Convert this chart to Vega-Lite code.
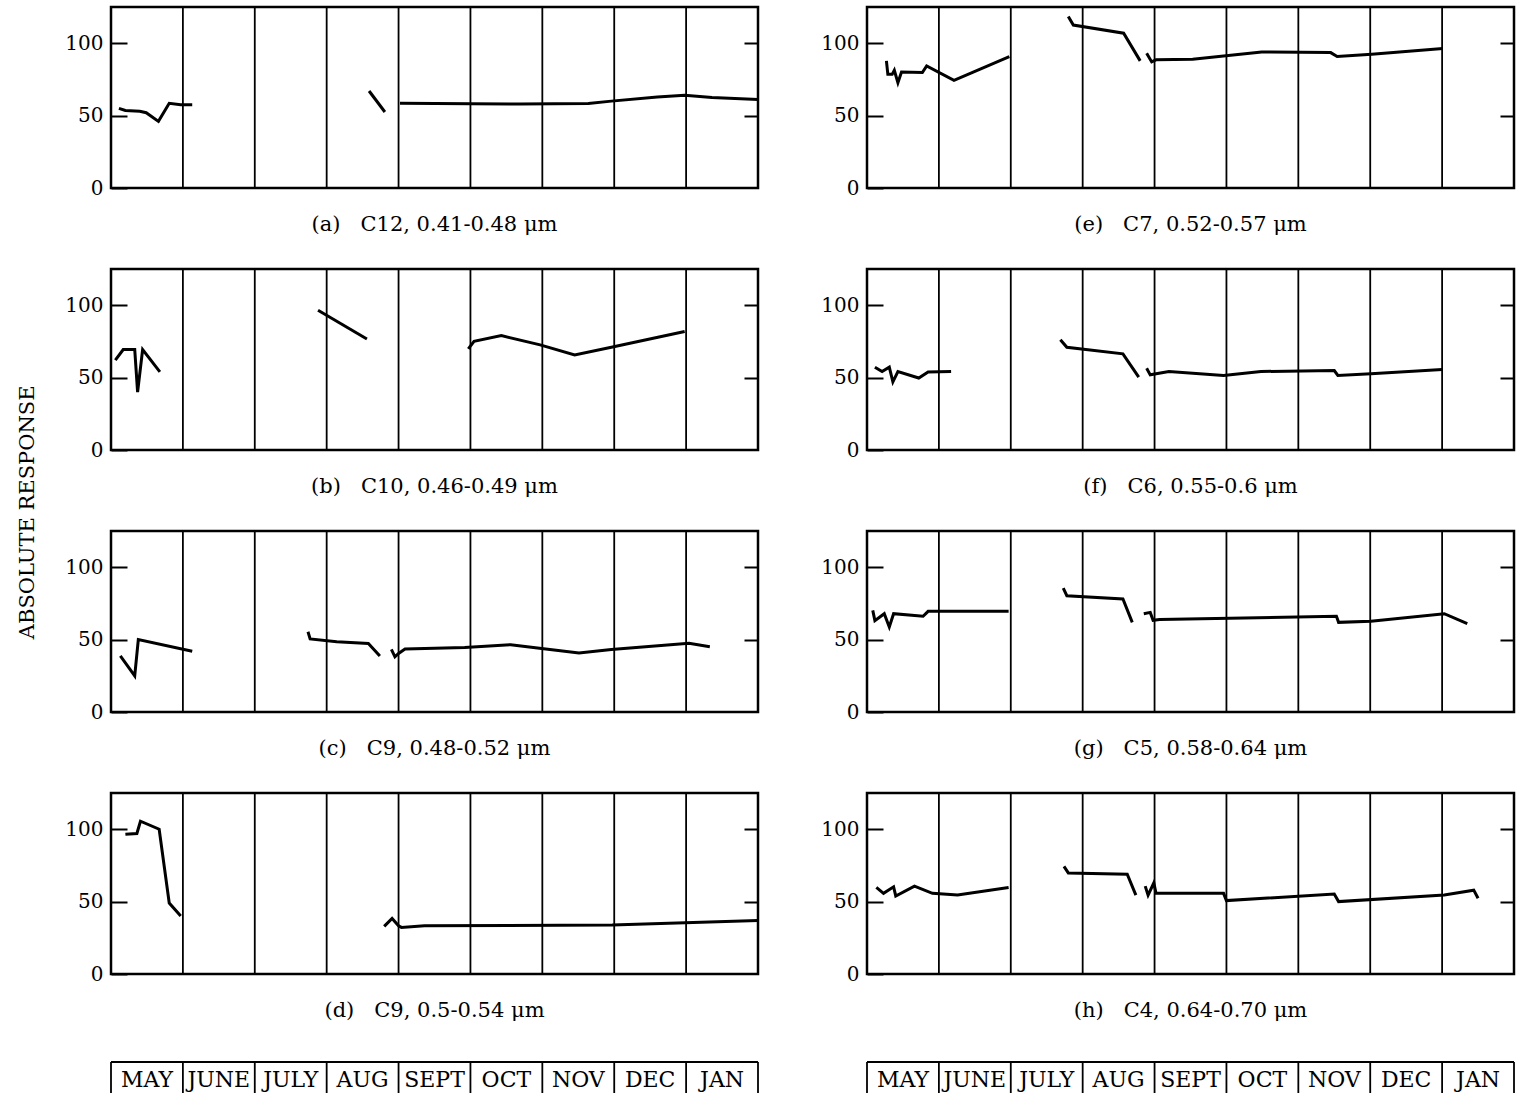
{
  "$schema": "https://vega.github.io/schema/vega-lite/v6.json",
  "background": "white",
  "padding": {"left": 16, "top": 4, "right": 5, "bottom": 0},
  "autosize": {"type": "pad"},
  "config": {
    "view": {"stroke": "black", "strokeWidth": 2.5},
    "font": "DejaVu Serif",
    "axis": {"labelFont": "DejaVu Serif", "labelFontSize": 20, "labelColor": "black", "tickColor": "black", "tickWidth": 2},
    "title": {"font": "DejaVu Serif", "fontSize": 21, "fontWeight": "normal", "color": "black"}
  },
  "datasets": {
    "bounds": [{"b": 0}, {"b": 1}, {"b": 2}, {"b": 3}, {"b": 4}, {"b": 5}, {"b": 6}, {"b": 7}, {"b": 8}, {"b": 9}],
    "edge": [{"x0": 0, "x1": 9}],
    "months": [
      {"c": 0.5, "name": "MAY"}, {"c": 1.5, "name": "JUNE"}, {"c": 2.5, "name": "JULY"}, {"c": 3.5, "name": "AUG"},
      {"c": 4.5, "name": "SEPT"}, {"c": 5.5, "name": "OCT"}, {"c": 6.5, "name": "NOV"}, {"c": 7.5, "name": "DEC"}, {"c": 8.5, "name": "JAN"}
    ],
    "resp": [
      {"p":"a","s":1,"m":0.11,"v":55},{"p":"a","s":1,"m":0.2,"v":53.5},{"p":"a","s":1,"m":0.4,"v":53},{"p":"a","s":1,"m":0.49,"v":52},{"p":"a","s":1,"m":0.66,"v":46},{"p":"a","s":1,"m":0.81,"v":58.5},{"p":"a","s":1,"m":0.97,"v":57.5},{"p":"a","s":1,"m":1.13,"v":57.5},
      {"p":"a","s":2,"m":3.59,"v":67},{"p":"a","s":2,"m":3.81,"v":52.5},
      {"p":"a","s":3,"m":4.02,"v":58.5},{"p":"a","s":3,"m":5.0,"v":58.2},{"p":"a","s":3,"m":5.69,"v":58},{"p":"a","s":3,"m":6.64,"v":58.3},{"p":"a","s":3,"m":6.96,"v":60},{"p":"a","s":3,"m":7.6,"v":62.8},{"p":"a","s":3,"m":7.98,"v":64},{"p":"a","s":3,"m":8.36,"v":62.5},{"p":"a","s":3,"m":9.0,"v":61.2},

      {"p":"b","s":1,"m":0.06,"v":62},{"p":"b","s":1,"m":0.17,"v":69.4},{"p":"b","s":1,"m":0.33,"v":69.4},{"p":"b","s":1,"m":0.37,"v":40},{"p":"b","s":1,"m":0.44,"v":69.4},{"p":"b","s":1,"m":0.68,"v":54},
      {"p":"b","s":2,"m":2.88,"v":96.5},{"p":"b","s":2,"m":3.56,"v":76.7},
      {"p":"b","s":3,"m":4.97,"v":69.8},{"p":"b","s":3,"m":5.05,"v":75},{"p":"b","s":3,"m":5.43,"v":79},{"p":"b","s":3,"m":5.97,"v":72.6},{"p":"b","s":3,"m":6.45,"v":65.7},{"p":"b","s":3,"m":6.96,"v":71},{"p":"b","s":3,"m":7.98,"v":81.8},

      {"p":"c","s":1,"m":0.13,"v":38.8},{"p":"c","s":1,"m":0.33,"v":25},{"p":"c","s":1,"m":0.38,"v":50},{"p":"c","s":1,"m":1.13,"v":42},
      {"p":"c","s":2,"m":2.74,"v":55.4},{"p":"c","s":2,"m":2.77,"v":50.5},{"p":"c","s":2,"m":3.14,"v":48.5},{"p":"c","s":2,"m":3.58,"v":47.3},{"p":"c","s":2,"m":3.74,"v":38.6},
      {"p":"c","s":3,"m":3.9,"v":43.2},{"p":"c","s":3,"m":3.95,"v":38.1},{"p":"c","s":3,"m":4.0,"v":40.4},{"p":"c","s":3,"m":4.09,"v":43.5},{"p":"c","s":3,"m":4.92,"v":44.6},{"p":"c","s":3,"m":5.56,"v":46.5},{"p":"c","s":3,"m":5.99,"v":43.8},{"p":"c","s":3,"m":6.51,"v":40.8},{"p":"c","s":3,"m":6.96,"v":43.2},{"p":"c","s":3,"m":8.04,"v":47.5},{"p":"c","s":3,"m":8.33,"v":45},

      {"p":"d","s":1,"m":0.2,"v":96.5},{"p":"d","s":1,"m":0.36,"v":97},{"p":"d","s":1,"m":0.41,"v":105.5},{"p":"d","s":1,"m":0.67,"v":100},{"p":"d","s":1,"m":0.81,"v":49},{"p":"d","s":1,"m":0.97,"v":40},
      {"p":"d","s":2,"m":3.8,"v":32.9},{"p":"d","s":2,"m":3.91,"v":38.4},{"p":"d","s":2,"m":4.0,"v":33.3},{"p":"d","s":2,"m":4.04,"v":32.2},{"p":"d","s":2,"m":4.36,"v":33.3},{"p":"d","s":2,"m":6.97,"v":33.8},{"p":"d","s":2,"m":9.0,"v":37},

      {"p":"e","s":1,"m":0.27,"v":87.8},{"p":"e","s":1,"m":0.29,"v":78.5},{"p":"e","s":1,"m":0.35,"v":78.5},{"p":"e","s":1,"m":0.38,"v":81.3},{"p":"e","s":1,"m":0.43,"v":72.7},{"p":"e","s":1,"m":0.48,"v":80.1},{"p":"e","s":1,"m":0.77,"v":79.7},{"p":"e","s":1,"m":0.83,"v":84.3},{"p":"e","s":1,"m":1.21,"v":74.4},{"p":"e","s":1,"m":1.98,"v":90.8},
      {"p":"e","s":2,"m":2.8,"v":118.5},{"p":"e","s":2,"m":2.87,"v":112.5},{"p":"e","s":2,"m":3.57,"v":106.9},{"p":"e","s":2,"m":3.8,"v":87.8},
      {"p":"e","s":3,"m":3.89,"v":93.1},{"p":"e","s":3,"m":3.96,"v":87.1},{"p":"e","s":3,"m":4.02,"v":88.5},{"p":"e","s":3,"m":4.53,"v":88.9},{"p":"e","s":3,"m":5.49,"v":94},{"p":"e","s":3,"m":6.45,"v":93.5},{"p":"e","s":3,"m":6.54,"v":90.8},{"p":"e","s":3,"m":7.02,"v":92.4},{"p":"e","s":3,"m":8.01,"v":96.3},

      {"p":"f","s":1,"m":0.11,"v":57.2},{"p":"f","s":1,"m":0.21,"v":54.2},{"p":"f","s":1,"m":0.31,"v":57.2},{"p":"f","s":1,"m":0.36,"v":47},{"p":"f","s":1,"m":0.43,"v":54.2},{"p":"f","s":1,"m":0.72,"v":49.7},{"p":"f","s":1,"m":0.85,"v":53.8},{"p":"f","s":1,"m":1.17,"v":54.2},
      {"p":"f","s":2,"m":2.69,"v":76.2},{"p":"f","s":2,"m":2.78,"v":70.9},{"p":"f","s":2,"m":3.56,"v":66.4},{"p":"f","s":2,"m":3.78,"v":50.3},
      {"p":"f","s":3,"m":3.89,"v":56.5},{"p":"f","s":3,"m":3.94,"v":51.9},{"p":"f","s":3,"m":4.2,"v":54.2},{"p":"f","s":3,"m":4.96,"v":51.5},{"p":"f","s":3,"m":5.48,"v":54.2},{"p":"f","s":3,"m":6.5,"v":54.9},{"p":"f","s":3,"m":6.55,"v":51.5},{"p":"f","s":3,"m":7.01,"v":52.6},{"p":"f","s":3,"m":8.0,"v":55.6},

      {"p":"g","s":1,"m":0.08,"v":70.2},{"p":"g","s":1,"m":0.11,"v":63.1},{"p":"g","s":1,"m":0.24,"v":67.9},{"p":"g","s":1,"m":0.31,"v":58.7},{"p":"g","s":1,"m":0.37,"v":67.9},{"p":"g","s":1,"m":0.78,"v":66.1},{"p":"g","s":1,"m":0.85,"v":69.5},{"p":"g","s":1,"m":1.97,"v":69.5},
      {"p":"g","s":2,"m":2.73,"v":85.6},{"p":"g","s":2,"m":2.78,"v":80.3},{"p":"g","s":2,"m":3.56,"v":78},{"p":"g","s":2,"m":3.69,"v":61.9},
      {"p":"g","s":3,"m":3.85,"v":67.9},{"p":"g","s":3,"m":3.94,"v":68.8},{"p":"g","s":3,"m":3.98,"v":63.3},{"p":"g","s":3,"m":4.07,"v":63.8},{"p":"g","s":3,"m":6.53,"v":66.1},{"p":"g","s":3,"m":6.56,"v":61.9},{"p":"g","s":3,"m":7.01,"v":62.6},{"p":"g","s":3,"m":8.03,"v":67.9},{"p":"g","s":3,"m":8.35,"v":61},

      {"p":"h","s":1,"m":0.13,"v":59.8},{"p":"h","s":1,"m":0.23,"v":55.7},{"p":"h","s":1,"m":0.37,"v":60.2},{"p":"h","s":1,"m":0.4,"v":53.9},{"p":"h","s":1,"m":0.66,"v":60.7},{"p":"h","s":1,"m":0.91,"v":55.7},{"p":"h","s":1,"m":1.26,"v":54.5},{"p":"h","s":1,"m":1.97,"v":59.8},
      {"p":"h","s":2,"m":2.74,"v":74.3},{"p":"h","s":2,"m":2.8,"v":69.8},{"p":"h","s":2,"m":3.62,"v":68.9},{"p":"h","s":2,"m":3.74,"v":54.5},
      {"p":"h","s":3,"m":3.87,"v":60.7},{"p":"h","s":3,"m":3.91,"v":54.5},{"p":"h","s":3,"m":3.99,"v":63},{"p":"h","s":3,"m":4.02,"v":55.7},{"p":"h","s":3,"m":4.96,"v":55.7},{"p":"h","s":3,"m":5.0,"v":50.7},{"p":"h","s":3,"m":6.5,"v":55.2},{"p":"h","s":3,"m":6.56,"v":50},{"p":"h","s":3,"m":8.03,"v":54.5},{"p":"h","s":3,"m":8.44,"v":57.9},{"p":"h","s":3,"m":8.5,"v":52.3}
    ]
  },
  "title": {"text": "ABSOLUTE RESPONSE", "orient": "left", "anchor": "middle", "offset": 26, "dx": 37, "fontSize": 21},
  "columns": 2,
  "spacing": {"row": 81, "column": 109},
  "bounds": "flush",
  "concat": [
    {"width": 647, "height": 181, "title": {"text": "(a)\u00a0\u00a0 C12, 0.41-0.48 μm", "orient": "bottom", "offset": 16},
     "layer": [
       {"data": {"name": "bounds"}, "mark": {"type": "rule", "color": "black", "strokeWidth": 1.8},
        "encoding": {"x": {"field": "b", "type": "quantitative", "scale": {"domain": [0, 9], "nice": false, "zero": false}, "axis": null},
          "y": {"datum": 0, "type": "quantitative", "scale": {"domain": [0, 125], "nice": false}, "axis": {"orient": "right", "values": [50, 100], "labels": false, "tickSize": -14, "domain": false, "title": null, "grid": false}},
          "y2": {"datum": 125}}},
       {"data": {"name": "resp"}, "transform": [{"filter": "datum.p == 'a'"}], "mark": {"type": "line", "color": "black", "strokeWidth": 3},
        "encoding": {"x": {"field": "m", "type": "quantitative", "scale": {"domain": [0, 9], "nice": false, "zero": false}, "axis": null},
          "y": {"field": "v", "type": "quantitative", "scale": {"domain": [0, 125], "nice": false}, "axis": {"orient": "left", "values": [0, 50, 100], "tickSize": -16, "labelPadding": 24, "domain": false, "title": null, "grid": false}},
          "detail": {"field": "s"}}}
     ],
     "resolve": {"axis": {"y": "independent"}}},
    {"width": 647, "height": 181, "title": {"text": "(e)\u00a0\u00a0 C7, 0.52-0.57 μm", "orient": "bottom", "offset": 16},
     "layer": [
       {"data": {"name": "bounds"}, "mark": {"type": "rule", "color": "black", "strokeWidth": 1.8},
        "encoding": {"x": {"field": "b", "type": "quantitative", "scale": {"domain": [0, 9], "nice": false, "zero": false}, "axis": null},
          "y": {"datum": 0, "type": "quantitative", "scale": {"domain": [0, 125], "nice": false}, "axis": {"orient": "right", "values": [50, 100], "labels": false, "tickSize": -14, "domain": false, "title": null, "grid": false}},
          "y2": {"datum": 125}}},
       {"data": {"name": "resp"}, "transform": [{"filter": "datum.p == 'e'"}], "mark": {"type": "line", "color": "black", "strokeWidth": 3},
        "encoding": {"x": {"field": "m", "type": "quantitative", "scale": {"domain": [0, 9], "nice": false, "zero": false}, "axis": null},
          "y": {"field": "v", "type": "quantitative", "scale": {"domain": [0, 125], "nice": false}, "axis": {"orient": "left", "values": [0, 50, 100], "tickSize": -16, "labelPadding": 24, "domain": false, "title": null, "grid": false}},
          "detail": {"field": "s"}}}
     ],
     "resolve": {"axis": {"y": "independent"}}},
    {"width": 647, "height": 181, "title": {"text": "(b)\u00a0\u00a0 C10, 0.46-0.49 μm", "orient": "bottom", "offset": 16},
     "layer": [
       {"data": {"name": "bounds"}, "mark": {"type": "rule", "color": "black", "strokeWidth": 1.8},
        "encoding": {"x": {"field": "b", "type": "quantitative", "scale": {"domain": [0, 9], "nice": false, "zero": false}, "axis": null},
          "y": {"datum": 0, "type": "quantitative", "scale": {"domain": [0, 125], "nice": false}, "axis": {"orient": "right", "values": [50, 100], "labels": false, "tickSize": -14, "domain": false, "title": null, "grid": false}},
          "y2": {"datum": 125}}},
       {"data": {"name": "resp"}, "transform": [{"filter": "datum.p == 'b'"}], "mark": {"type": "line", "color": "black", "strokeWidth": 3},
        "encoding": {"x": {"field": "m", "type": "quantitative", "scale": {"domain": [0, 9], "nice": false, "zero": false}, "axis": null},
          "y": {"field": "v", "type": "quantitative", "scale": {"domain": [0, 125], "nice": false}, "axis": {"orient": "left", "values": [0, 50, 100], "tickSize": -16, "labelPadding": 24, "domain": false, "title": null, "grid": false}},
          "detail": {"field": "s"}}}
     ],
     "resolve": {"axis": {"y": "independent"}}},
    {"width": 647, "height": 181, "title": {"text": "(f)\u00a0\u00a0 C6, 0.55-0.6 μm", "orient": "bottom", "offset": 16},
     "layer": [
       {"data": {"name": "bounds"}, "mark": {"type": "rule", "color": "black", "strokeWidth": 1.8},
        "encoding": {"x": {"field": "b", "type": "quantitative", "scale": {"domain": [0, 9], "nice": false, "zero": false}, "axis": null},
          "y": {"datum": 0, "type": "quantitative", "scale": {"domain": [0, 125], "nice": false}, "axis": {"orient": "right", "values": [50, 100], "labels": false, "tickSize": -14, "domain": false, "title": null, "grid": false}},
          "y2": {"datum": 125}}},
       {"data": {"name": "resp"}, "transform": [{"filter": "datum.p == 'f'"}], "mark": {"type": "line", "color": "black", "strokeWidth": 3},
        "encoding": {"x": {"field": "m", "type": "quantitative", "scale": {"domain": [0, 9], "nice": false, "zero": false}, "axis": null},
          "y": {"field": "v", "type": "quantitative", "scale": {"domain": [0, 125], "nice": false}, "axis": {"orient": "left", "values": [0, 50, 100], "tickSize": -16, "labelPadding": 24, "domain": false, "title": null, "grid": false}},
          "detail": {"field": "s"}}}
     ],
     "resolve": {"axis": {"y": "independent"}}},
    {"width": 647, "height": 181, "title": {"text": "(c)\u00a0\u00a0 C9, 0.48-0.52 μm", "orient": "bottom", "offset": 16},
     "layer": [
       {"data": {"name": "bounds"}, "mark": {"type": "rule", "color": "black", "strokeWidth": 1.8},
        "encoding": {"x": {"field": "b", "type": "quantitative", "scale": {"domain": [0, 9], "nice": false, "zero": false}, "axis": null},
          "y": {"datum": 0, "type": "quantitative", "scale": {"domain": [0, 125], "nice": false}, "axis": {"orient": "right", "values": [50, 100], "labels": false, "tickSize": -14, "domain": false, "title": null, "grid": false}},
          "y2": {"datum": 125}}},
       {"data": {"name": "resp"}, "transform": [{"filter": "datum.p == 'c'"}], "mark": {"type": "line", "color": "black", "strokeWidth": 3},
        "encoding": {"x": {"field": "m", "type": "quantitative", "scale": {"domain": [0, 9], "nice": false, "zero": false}, "axis": null},
          "y": {"field": "v", "type": "quantitative", "scale": {"domain": [0, 125], "nice": false}, "axis": {"orient": "left", "values": [0, 50, 100], "tickSize": -16, "labelPadding": 24, "domain": false, "title": null, "grid": false}},
          "detail": {"field": "s"}}}
     ],
     "resolve": {"axis": {"y": "independent"}}},
    {"width": 647, "height": 181, "title": {"text": "(g)\u00a0\u00a0 C5, 0.58-0.64 μm", "orient": "bottom", "offset": 16},
     "layer": [
       {"data": {"name": "bounds"}, "mark": {"type": "rule", "color": "black", "strokeWidth": 1.8},
        "encoding": {"x": {"field": "b", "type": "quantitative", "scale": {"domain": [0, 9], "nice": false, "zero": false}, "axis": null},
          "y": {"datum": 0, "type": "quantitative", "scale": {"domain": [0, 125], "nice": false}, "axis": {"orient": "right", "values": [50, 100], "labels": false, "tickSize": -14, "domain": false, "title": null, "grid": false}},
          "y2": {"datum": 125}}},
       {"data": {"name": "resp"}, "transform": [{"filter": "datum.p == 'g'"}], "mark": {"type": "line", "color": "black", "strokeWidth": 3},
        "encoding": {"x": {"field": "m", "type": "quantitative", "scale": {"domain": [0, 9], "nice": false, "zero": false}, "axis": null},
          "y": {"field": "v", "type": "quantitative", "scale": {"domain": [0, 125], "nice": false}, "axis": {"orient": "left", "values": [0, 50, 100], "tickSize": -16, "labelPadding": 24, "domain": false, "title": null, "grid": false}},
          "detail": {"field": "s"}}}
     ],
     "resolve": {"axis": {"y": "independent"}}},
    {"width": 647, "height": 181, "title": {"text": "(d)\u00a0\u00a0 C9, 0.5-0.54 μm", "orient": "bottom", "offset": 16},
     "layer": [
       {"data": {"name": "bounds"}, "mark": {"type": "rule", "color": "black", "strokeWidth": 1.8},
        "encoding": {"x": {"field": "b", "type": "quantitative", "scale": {"domain": [0, 9], "nice": false, "zero": false}, "axis": null},
          "y": {"datum": 0, "type": "quantitative", "scale": {"domain": [0, 125], "nice": false}, "axis": {"orient": "right", "values": [50, 100], "labels": false, "tickSize": -14, "domain": false, "title": null, "grid": false}},
          "y2": {"datum": 125}}},
       {"data": {"name": "resp"}, "transform": [{"filter": "datum.p == 'd'"}], "mark": {"type": "line", "color": "black", "strokeWidth": 3},
        "encoding": {"x": {"field": "m", "type": "quantitative", "scale": {"domain": [0, 9], "nice": false, "zero": false}, "axis": null},
          "y": {"field": "v", "type": "quantitative", "scale": {"domain": [0, 125], "nice": false}, "axis": {"orient": "left", "values": [0, 50, 100], "tickSize": -16, "labelPadding": 24, "domain": false, "title": null, "grid": false}},
          "detail": {"field": "s"}}}
     ],
     "resolve": {"axis": {"y": "independent"}}},
    {"width": 647, "height": 181, "title": {"text": "(h)\u00a0\u00a0 C4, 0.64-0.70 μm", "orient": "bottom", "offset": 16},
     "layer": [
       {"data": {"name": "bounds"}, "mark": {"type": "rule", "color": "black", "strokeWidth": 1.8},
        "encoding": {"x": {"field": "b", "type": "quantitative", "scale": {"domain": [0, 9], "nice": false, "zero": false}, "axis": null},
          "y": {"datum": 0, "type": "quantitative", "scale": {"domain": [0, 125], "nice": false}, "axis": {"orient": "right", "values": [50, 100], "labels": false, "tickSize": -14, "domain": false, "title": null, "grid": false}},
          "y2": {"datum": 125}}},
       {"data": {"name": "resp"}, "transform": [{"filter": "datum.p == 'h'"}], "mark": {"type": "line", "color": "black", "strokeWidth": 3},
        "encoding": {"x": {"field": "m", "type": "quantitative", "scale": {"domain": [0, 9], "nice": false, "zero": false}, "axis": null},
          "y": {"field": "v", "type": "quantitative", "scale": {"domain": [0, 125], "nice": false}, "axis": {"orient": "left", "values": [0, 50, 100], "tickSize": -16, "labelPadding": 24, "domain": false, "title": null, "grid": false}},
          "detail": {"field": "s"}}}
     ],
     "resolve": {"axis": {"y": "independent"}}},
    {"width": 647, "height": 38, "view": {"stroke": null},
     "layer": [
       {"data": {"name": "bounds"}, "mark": {"type": "rule", "color": "black", "strokeWidth": 1.8},
        "encoding": {"x": {"field": "b", "type": "quantitative", "scale": {"domain": [0, 9], "nice": false, "zero": false}, "axis": null},
          "y": {"datum": 0, "type": "quantitative", "scale": {"domain": [0, 38], "nice": false}, "axis": null},
          "y2": {"datum": 31}}},
       {"data": {"name": "edge"}, "mark": {"type": "rule", "color": "black", "strokeWidth": 1.8},
        "encoding": {"x": {"field": "x0", "type": "quantitative"}, "x2": {"field": "x1"}, "y": {"datum": 31, "type": "quantitative"}}},
       {"data": {"name": "months"}, "mark": {"type": "text", "font": "DejaVu Serif", "fontSize": 22, "baseline": "middle", "color": "black"},
        "encoding": {"x": {"field": "c", "type": "quantitative"}, "y": {"datum": 13, "type": "quantitative"}, "text": {"field": "name"}}}
     ]},
    {"width": 647, "height": 38, "view": {"stroke": null},
     "layer": [
       {"data": {"name": "bounds"}, "mark": {"type": "rule", "color": "black", "strokeWidth": 1.8},
        "encoding": {"x": {"field": "b", "type": "quantitative", "scale": {"domain": [0, 9], "nice": false, "zero": false}, "axis": null},
          "y": {"datum": 0, "type": "quantitative", "scale": {"domain": [0, 38], "nice": false}, "axis": null},
          "y2": {"datum": 31}}},
       {"data": {"name": "edge"}, "mark": {"type": "rule", "color": "black", "strokeWidth": 1.8},
        "encoding": {"x": {"field": "x0", "type": "quantitative"}, "x2": {"field": "x1"}, "y": {"datum": 31, "type": "quantitative"}}},
       {"data": {"name": "months"}, "mark": {"type": "text", "font": "DejaVu Serif", "fontSize": 22, "baseline": "middle", "color": "black"},
        "encoding": {"x": {"field": "c", "type": "quantitative"}, "y": {"datum": 13, "type": "quantitative"}, "text": {"field": "name"}}}
     ]}
  ]
}
